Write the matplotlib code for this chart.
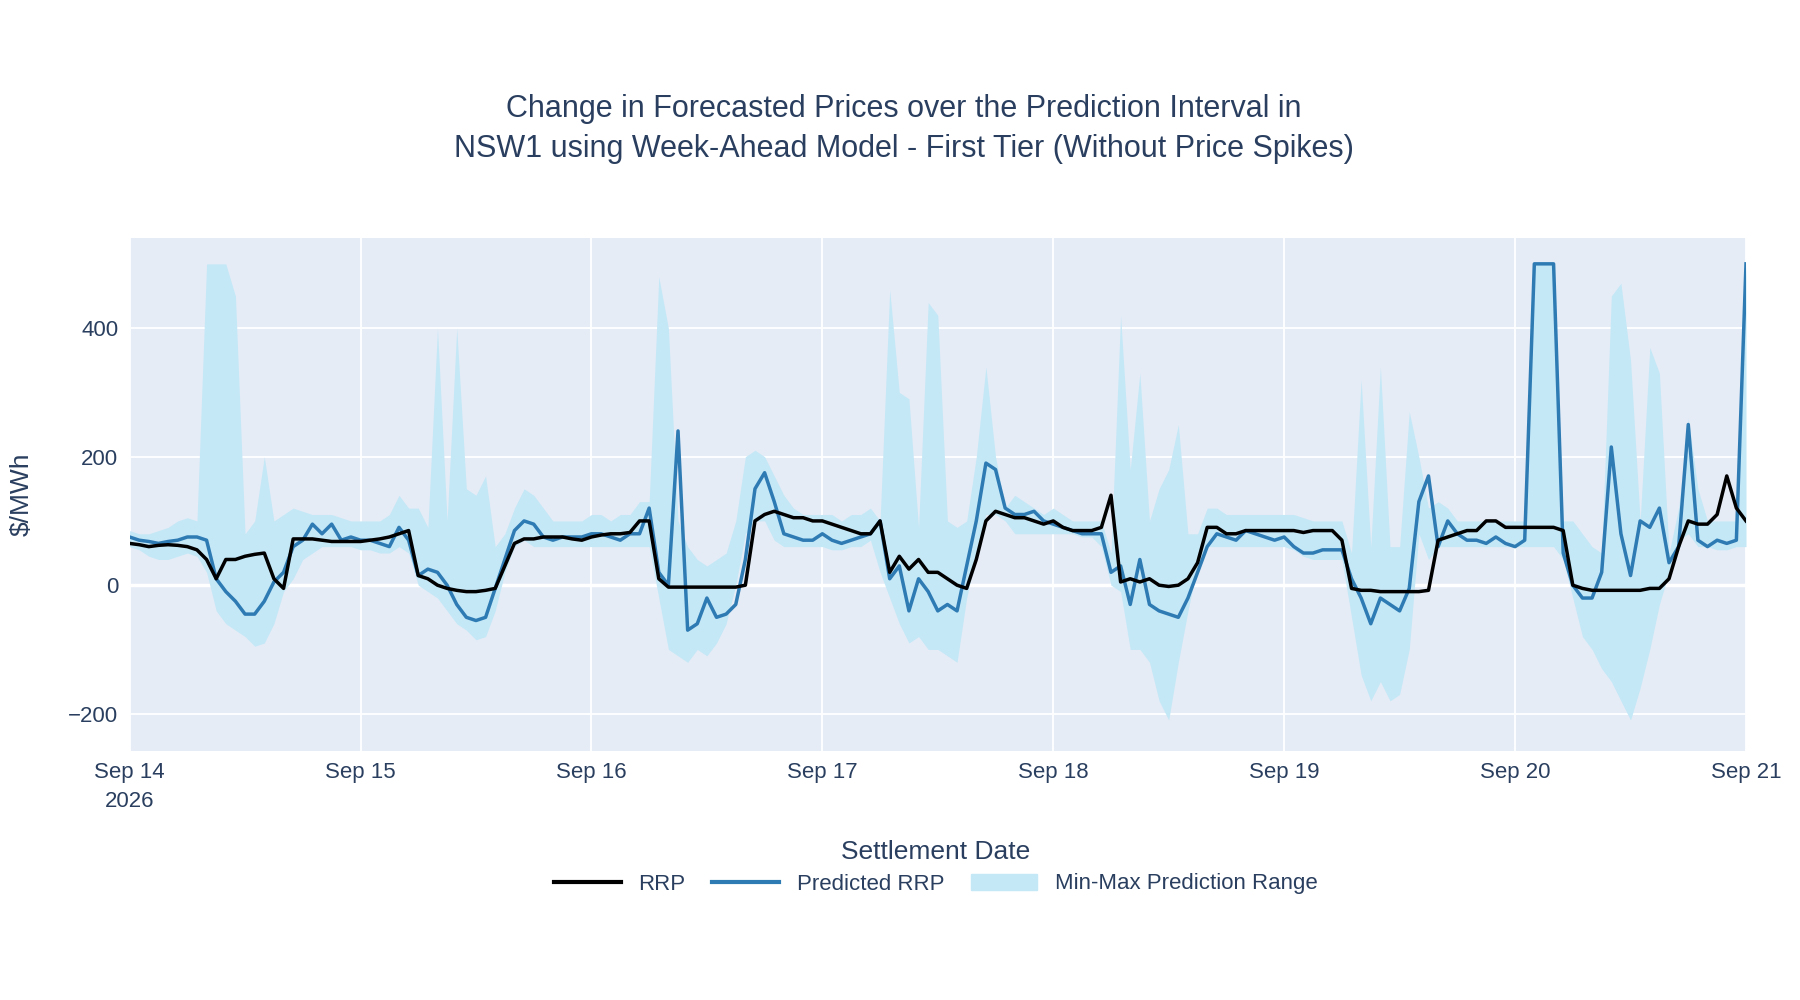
import numpy as np
import pandas as pd
import matplotlib
matplotlib.use("Agg")
import matplotlib.pyplot as plt
import matplotlib.dates as mdates
from matplotlib.lines import Line2D
from matplotlib.patches import Patch

plt.rcParams['font.family'] = ['Liberation Sans', 'DejaVu Sans']

rrp = [65,63,60,62,63,62,60,55,40,10,40,40,45,48,50,10,-5,72,72,72,70,68,68,68,
       68,70,72,75,80,85,15,10,0,-5,-8,-10,-10,-8,-5,30,65,72,72,75,75,75,72,70,
       75,78,80,80,82,100,100,10,-3,-3,-3,-3,-3,-3,-3,-3,0,100,110,115,110,105,105,100,
       100,95,90,85,80,80,100,20,45,25,40,20,20,10,0,-5,40,100,115,110,105,105,100,95,
       100,90,85,85,85,90,140,5,10,5,10,0,-2,0,10,35,90,90,80,80,85,85,85,85,
       85,85,82,85,85,85,70,-5,-8,-8,-10,-10,-10,-10,-10,-8,70,75,80,85,85,100,100,90,
       90,90,90,90,90,85,0,-5,-8,-8,-8,-8,-8,-8,-5,-5,10,60,100,95,95,110,170,120,
       100]
predicted = [75,70,68,65,68,70,75,75,70,10,-10,-25,-45,-45,-25,5,20,60,70,95,80,95,70,75,
             70,70,65,60,90,70,15,25,20,0,-30,-50,-55,-50,-5,40,85,100,95,75,70,75,75,75,
             80,80,75,70,80,80,120,20,0,240,-70,-60,-20,-50,-45,-30,40,150,175,130,80,75,70,70,
             80,70,65,70,75,80,100,10,30,-40,10,-10,-40,-30,-40,30,100,190,180,120,110,110,115,100,
             95,90,85,80,80,80,20,30,-30,40,-30,-40,-45,-50,-20,20,60,80,75,70,85,80,75,70,
             75,60,50,50,55,55,55,10,-20,-60,-20,-30,-40,-5,130,170,60,100,80,70,70,65,75,65,
             60,70,500,500,500,50,0,-20,-20,20,215,80,15,100,90,120,35,60,250,70,60,70,65,70,
             500]
range_max = [85,80,80,85,90,100,105,100,500,500,500,450,80,100,200,100,110,120,115,110,110,110,105,100,
             100,100,100,110,140,120,120,90,400,100,400,150,140,170,60,80,120,150,140,120,100,100,100,100,
             110,110,100,110,110,130,130,480,400,100,60,40,30,40,50,100,200,210,200,170,140,120,110,110,
             110,110,100,110,110,120,100,460,300,290,90,440,420,100,90,100,200,340,200,120,140,130,120,110,
             120,110,100,100,100,100,50,420,180,330,100,150,180,250,80,80,120,120,110,110,110,110,110,110,
             110,110,105,100,100,100,100,50,320,60,340,60,60,270,200,120,130,120,100,100,100,100,100,100,
             100,100,500,500,500,100,100,80,60,50,450,470,350,100,370,330,50,120,260,150,100,100,100,100,
             500]
range_min = [60,55,45,40,40,45,50,45,20,-40,-60,-70,-80,-95,-90,-60,-10,10,40,50,60,60,60,60,
             55,55,50,50,60,50,0,-10,-20,-40,-60,-70,-85,-80,-40,20,60,70,60,60,60,60,60,60,
             60,60,60,60,60,60,60,-20,-100,-110,-120,-100,-110,-90,-60,0,80,100,100,70,60,60,60,60,
             60,55,55,60,60,70,20,-20,-60,-90,-80,-100,-100,-110,-120,-20,50,110,110,100,80,80,80,80,
             80,80,80,75,75,60,0,-10,-100,-100,-120,-180,-210,-120,-40,30,60,60,60,60,60,60,60,60,
             60,55,45,40,40,40,40,-50,-140,-180,-150,-180,-170,-100,80,40,60,60,60,60,60,60,60,60,
             60,60,60,60,60,40,-20,-80,-100,-130,-150,-180,-210,-160,-100,-30,20,70,80,60,60,55,55,60,
             60]

times = pd.date_range("2026-09-14", periods=len(rrp), freq="h")
text_c = "#2a3f5f"

fig = plt.figure(figsize=(18, 10), dpi=100)
ax = fig.add_axes([0.072, 0.249, 0.898, 0.5135])
ax.set_facecolor("#E5ECF6")
ax.fill_between(times, range_min, range_max, color="#c5e8f7", lw=0, zorder=1)
ax.plot(times, predicted, color="#2e7bb4", lw=2.5, zorder=2)
ax.plot(times, rrp, color="black", lw=2.5, zorder=3)
ax.set_xlim(times[0], times[-1])
ax.set_ylim(-258, 541)
ax.set_yticks([-200, 0, 200, 400])
ax.set_yticklabels(["\u2212200", "0", "200", "400"])
days = pd.date_range("2026-09-14", "2026-09-21")
labels = [d.strftime("%b %d").replace(" 0", " ") for d in days]
labels[0] += "\n2026"
ax.set_xticks(days)
ax.set_xticklabels(labels, linespacing=1.5)
ax.grid(color="white", lw=1.3)
ax.axhline(0, color="white", lw=2.5, zorder=0.5)
ax.set_axisbelow(True)
for s in ax.spines.values():
    s.set_visible(False)
ax.tick_params(length=0, labelsize=16, colors=text_c, pad=8)
ax.set_ylabel("$/MWh", fontsize=19, color=text_c, labelpad=25)
fig.text(0.52, 0.148, "Settlement Date", ha="center", va="center", fontsize=19, color=text_c)
fig.text(0.502, 0.871, "Change in Forecasted Prices over the Prediction Interval in\nNSW1 using Week-Ahead Model - First Tier (Without Price Spikes)",
         ha="center", va="center", fontsize=22, color=text_c, linespacing=1.4)
handles = [Line2D([], [], color="black", lw=3), Line2D([], [], color="#2e7bb4", lw=3),
           Patch(color="#c5e8f7")]
fig.legend(handles, ["RRP", "Predicted RRP", "Min-Max Prediction Range"], loc="center",
           bbox_to_anchor=(0.52, 0.116), ncol=3, frameon=False, fontsize=16,
           labelcolor=text_c, handlelength=3, columnspacing=1.2)
fig.savefig("out.png")
